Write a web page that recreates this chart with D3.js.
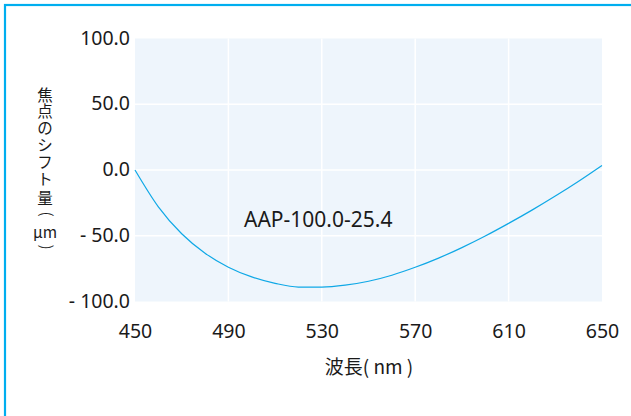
<!DOCTYPE html>
<html><head><meta charset="utf-8">
<script src="https://cdn.jsdelivr.net/npm/d3@7"></script>
<style>
html,body{margin:0;padding:0;background:#fff;}
svg{display:block;}
text{font-family:"Noto Sans","Noto Sans CJK JP",sans-serif;fill:#1a1a1a;}
</style></head><body>
<svg id="c" width="631" height="416"></svg>
<script>
const wavelengths = [450,460,470,480,490,500,510,520,530,540,550,560,570,580,590,600,610,620,630,640,650];
const focalShift = [0,-28,-48.5,-63.3,-73.9,-81.3,-86.2,-89.0,-89.0,-87.6,-84.6,-80.0,-74.0,-67.0,-59.0,-50.2,-40.6,-30.5,-19.8,-8.5,3.5];
const xTicks = [450,490,530,570,610,650];
const yTicks = [100,50,0,-50,-100];
const yTickLabels = ["100.0","50.0","0.0","- 50.0","- 100.0"];
const seriesLabel = "AAP-100.0-25.4";
const xTitle = "波長( nm )";
const yTitleChars = ["焦","点","の","シ","フ","ト","量","(","μm",")"];

const svg = d3.select("#c");
const L=135, R=602, T=38.5, B=301.5;
const x = d3.scaleLinear().domain([450,650]).range([L,R]);
const y = d3.scaleLinear().domain([-100,100]).range([B,T]);

svg.append("rect").attr("x",5).attr("y",5).attr("width",640).attr("height",430)
  .attr("fill","none").attr("stroke","#00aeef").attr("stroke-width",2.2);

svg.append("rect").attr("x",L).attr("y",T).attr("width",R-L).attr("height",B-T).attr("fill","#eef5fc");

svg.append("g").selectAll("line").data(xTicks.slice(1,-1)).join("line")
  .attr("x1",d=>x(d)).attr("x2",d=>x(d)).attr("y1",T).attr("y2",B)
  .attr("stroke","#fff").attr("stroke-width",1.5);
svg.append("g").selectAll("line").data(yTicks.slice(1,-1)).join("line")
  .attr("x1",L).attr("x2",R).attr("y1",d=>y(d)).attr("y2",d=>y(d))
  .attr("stroke","#fff").attr("stroke-width",1.5);

const xAxis = d3.axisBottom(x).tickValues(xTicks).tickSize(0).tickPadding(0).tickFormat(d3.format("d"));
const gx = svg.append("g").attr("transform",`translate(0,${B})`).call(xAxis);
gx.select(".domain").remove();
gx.selectAll("text").attr("font-size",19.5).attr("dy",null).attr("y",36).style("font-family",'"Noto Sans",sans-serif').attr("fill","#1a1a1a");

const yAxis = d3.axisLeft(y).tickValues(yTicks).tickSize(0).tickPadding(0).tickFormat((d,i)=>yTickLabels[i]);
const gy = svg.append("g").attr("transform",`translate(${L-5},0)`).call(yAxis);
gy.select(".domain").remove();
gy.selectAll("text").attr("font-size",19.5).attr("dy",null).attr("y",0).attr("x",0).attr("dominant-baseline","middle").style("font-family",'"Noto Sans",sans-serif').attr("fill","#1a1a1a");
gy.selectAll("text").attr("transform","translate(0,0.5)");

const line = d3.line().x((d,i)=>x(wavelengths[i])).y(d=>y(d)).curve(d3.curveMonotoneX);
svg.append("path").datum(focalShift).attr("d",line).attr("fill","none")
  .attr("stroke","#0fa8e6").attr("stroke-width",1.2);

svg.append("text").attr("x",244).attr("y",227).attr("font-size",21).text(seriesLabel);

svg.append("text").attr("x",369).attr("y",374).attr("text-anchor","middle").attr("font-size",19)
  .style("font-family",'"Noto Sans CJK JP",sans-serif').text(xTitle);

const yt = svg.append("g").attr("transform","translate(45,0)");
const ys = [101,117,134,151,168,185,204,214,238,247];
yTitleChars.forEach((c,i)=>{
  const t = yt.append("text").attr("text-anchor","middle").attr("font-size",15.5)
    .style("font-family",'"Noto Sans CJK JP",sans-serif').text(c);
  if(c==="("||c===")"){
    t.attr("transform",`translate(0,${ys[i]}) rotate(90)`).attr("dominant-baseline","middle");
  } else {
    t.attr("y",ys[i]);
  }
});
</script></body></html>
